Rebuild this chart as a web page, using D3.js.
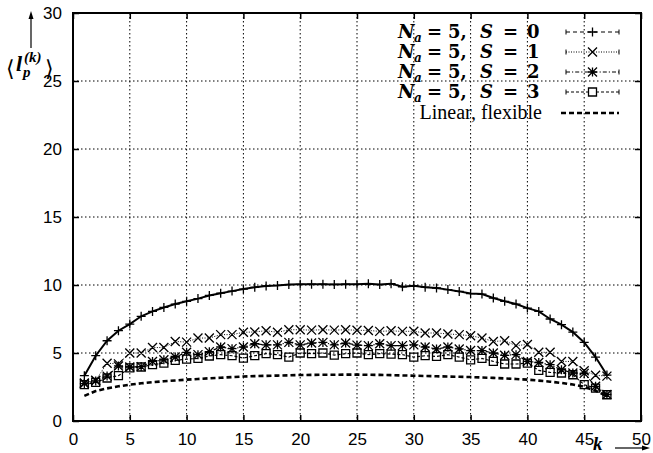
<!DOCTYPE html>
<html>
<head>
<meta charset="utf-8">
<script src="https://cdn.jsdelivr.net/npm/d3@7"></script>
<style>
  html, body { margin: 0; padding: 0; background: #fff; }
  svg { display: block; }
</style>
</head>
<body>
<svg id="chart" width="653" height="453"></svg>
<script>
// Mean loop lengths <l_p^(k)> against position k
const kValues = d3.range(1, 48);
const xTicks = [0, 5, 10, 15, 20, 25, 30, 35, 40, 45, 50];
const yTicks = [0, 5, 10, 15, 20, 25, 30];

const seriesS0 = [3.33, 4.8, 5.9, 6.64, 7.13, 7.7, 8.06, 8.35, 8.6, 8.8, 9.0, 9.23, 9.4, 9.55, 9.7, 9.83,
  9.93, 9.97, 10.03, 10.05, 10.06, 10.06, 10.04, 10.06, 10.05, 10.1, 10.03, 10.1, 9.87, 9.95, 9.84,
  9.78, 9.66, 9.53, 9.37, 9.33, 9.04, 8.8, 8.6, 8.3, 8.06, 7.5, 7.08, 6.54, 5.78, 4.7, 3.38];
const seriesS1 = [2.8, 3.0, 4.25, 4.2, 5.0, 5.0, 5.4, 5.4, 5.85, 5.8, 6.1, 6.1, 6.35, 6.35, 6.52, 6.55,
  6.64, 6.52, 6.71, 6.71, 6.68, 6.71, 6.68, 6.71, 6.67, 6.66, 6.59, 6.63, 6.59, 6.6, 6.47, 6.47,
  6.4, 6.35, 6.27, 6.1, 5.85, 5.9, 5.54, 5.63, 5.05, 5.05, 4.38, 4.38, 3.7, 3.36, 3.3];
const seriesS2 = [2.75, 2.95, 3.3, 4.05, 3.97, 4.0, 4.38, 4.5, 4.7, 5.05, 4.88, 5.1, 5.44, 5.32, 5.44,
  5.68, 5.6, 5.6, 5.78, 5.6, 5.73, 5.78, 5.6, 5.73, 5.58, 5.54, 5.68, 5.54, 5.54, 5.6, 5.44, 5.3,
  5.44, 5.3, 5.18, 5.18, 5.0, 4.83, 4.88, 4.38, 4.3, 4.14, 3.77, 3.53, 3.5, 2.55, 1.95];
const seriesS3 = [2.67, 2.84, 3.16, 3.33, 3.9, 3.97, 4.14, 4.26, 4.46, 4.55, 4.6, 4.78, 4.88, 4.8, 4.63,
  4.8, 4.95, 4.88, 4.7, 5.0, 4.95, 5.0, 4.85, 4.95, 5.0, 4.88, 4.95, 4.92, 4.88, 4.7, 4.8, 4.75,
  4.88, 4.7, 4.5, 4.6, 4.38, 4.19, 4.19, 4.26, 3.72, 3.57, 3.53, 3.4, 2.67, 2.42, 1.93];
const seriesLinear = [1.85, 2.2, 2.4, 2.55, 2.67, 2.77, 2.85, 2.92, 2.98, 3.04, 3.09, 3.14, 3.18, 3.23,
  3.27, 3.3, 3.32, 3.34, 3.36, 3.38, 3.39, 3.4, 3.4, 3.41, 3.41, 3.4, 3.39, 3.37, 3.35, 3.33, 3.31,
  3.29, 3.27, 3.25, 3.23, 3.2, 3.17, 3.13, 3.09, 3.04, 2.97, 2.89, 2.8, 2.68, 2.52, 2.23, 1.82];

const naValue = "5";
const spinValues = ["0", "1", "2", "3"];

const svg = d3.select("#chart");
const plotLeft = 73, plotRight = 641, plotTop = 13, plotBottom = 421;
const x = d3.scaleLinear().domain([0, 50]).range([plotLeft, plotRight]);
const y = d3.scaleLinear().domain([0, 30]).range([plotBottom, plotTop]);

const tickFont = "'Liberation Sans', Arial, sans-serif";
const serif = "'Liberation Serif', 'Times New Roman', serif";
const mathFont = "'DejaVu Serif', serif";

// grid
const grid = svg.append("g").attr("stroke", "#000").attr("stroke-width", 1)
  .attr("stroke-dasharray", "1.5,2.5");
grid.selectAll("line.gx").data(xTicks.filter(t => t > 0 && t < 50)).join("line").attr("class", "gx")
  .attr("x1", d => x(d)).attr("x2", d => x(d)).attr("y1", plotTop).attr("y2", plotBottom);
grid.selectAll("line.gy").data(yTicks.filter(t => t > 0 && t < 30)).join("line").attr("class", "gy")
  .attr("y1", d => y(d)).attr("y2", d => y(d)).attr("x1", plotLeft).attr("x2", plotRight);

// axes with inward ticks on all four sides
function styleAxis(g, showText) {
  g.select(".domain").remove();
  g.selectAll(".tick line").attr("stroke", "#000").attr("stroke-width", 1.5);
  g.selectAll(".tick text").attr("fill", "#000").style("font-family", tickFont).style("font-size", "17px");
  if (!showText) g.selectAll(".tick text").remove();
}
svg.append("g").attr("transform", `translate(0,${plotBottom})`)
  .call(d3.axisBottom(x).tickValues(xTicks).tickSize(-6).tickPadding(12).tickFormat(d3.format("d")))
  .call(g => styleAxis(g, true));
svg.append("g").attr("transform", `translate(0,${plotTop})`)
  .call(d3.axisTop(x).tickValues(xTicks).tickSize(-6)).call(g => styleAxis(g, false));
svg.append("g").attr("transform", `translate(${plotLeft},0)`)
  .call(d3.axisLeft(y).tickValues(yTicks).tickSize(-6).tickPadding(11).tickFormat(d3.format("d")))
  .call(g => styleAxis(g, true));
svg.append("g").attr("transform", `translate(${plotRight},0)`)
  .call(d3.axisRight(y).tickValues(yTicks).tickSize(-6)).call(g => styleAxis(g, false));

// marker shapes
const r = 4.5;
function plusPath(cx, cy) { return `M${cx - r},${cy}H${cx + r}M${cx},${cy - r}V${cy + r}`; }
function crossPath(cx, cy) { return `M${cx - r},${cy - r}L${cx + r},${cy + r}M${cx - r},${cy + r}L${cx + r},${cy - r}`; }
function starPath(cx, cy) { return plusPath(cx, cy) + crossPath(cx, cy); }
function boxPath(cx, cy) { const s = 4; return `M${cx - s},${cy - s}H${cx + s}V${cy + s}H${cx - s}Z`; }

const series = [
  { values: seriesS0, marker: plusPath, width: 2, dash: null, legendDash: "4,3" },
  { values: seriesS1, marker: crossPath, width: 1, dash: "1,1.5", legendDash: "1,1.5" },
  { values: seriesS2, marker: starPath, width: 1.2, dash: "4,2,1.2,2", legendDash: "4,2,1.2,2" },
  { values: seriesS3, marker: boxPath, width: 1.2, dash: "3,2", legendDash: "3,2" }
];

const line = d3.line().x((d, i) => x(kValues[i])).y(d => y(d));

// linear flexible reference curve
svg.append("path").datum(seriesLinear).attr("d", line)
  .attr("fill", "none").attr("stroke", "#000").attr("stroke-width", 2.6)
  .attr("stroke-dasharray", "5,3");

series.slice().reverse().forEach(s => {
  svg.append("path").datum(s.values).attr("d", line)
    .attr("fill", "none").attr("stroke", "#000").attr("stroke-width", s.width)
    .attr("stroke-dasharray", s.dash);
  svg.append("path")
    .attr("d", s.values.map((v, i) => s.marker(x(kValues[i]), y(v))).join(""))
    .attr("fill", "none").attr("stroke", "#000").attr("stroke-width", 1.3);
});

// frame
svg.append("rect").attr("x", plotLeft).attr("y", plotTop)
  .attr("width", plotRight - plotLeft).attr("height", plotBottom - plotTop)
  .attr("fill", "none").attr("stroke", "#000").attr("stroke-width", 2);

// legend: math-style entries laid out piece by piece
const legend = svg.append("g");
const sx1 = 566, sx2 = 619;
series.forEach((s, i) => {
  const cy = 32 + 20 * i;
  const base = cy + 6;
  const t = legend.append("text").attr("y", base)
    .style("font-family", mathFont).style("font-size", "18px")
    .style("font-weight", "bold").attr("fill", "#000");
  t.append("tspan").attr("x", 398).style("font-style", "italic").text("N");
  t.append("tspan").attr("x", 414).attr("y", base + 3.5).style("font-style", "italic")
    .style("font-size", "12px").text("a");
  t.append("tspan").attr("x", 427).attr("y", base).text("=");
  t.append("tspan").attr("x", 448).text(naValue + ",");
  t.append("tspan").attr("x", 480).style("font-style", "italic").text("S");
  t.append("tspan").attr("x", 503).text("=");
  t.append("tspan").attr("x", 527).text(spinValues[i]);

  legend.append("line").attr("x1", sx1).attr("x2", sx2).attr("y1", cy).attr("y2", cy)
    .attr("stroke", "#000").attr("stroke-width", 1).attr("stroke-dasharray", s.legendDash);
  legend.append("path").attr("d", `M${sx1},${cy - 2.5}V${cy + 2.5}M${sx2},${cy - 2.5}V${cy + 2.5}`)
    .attr("stroke", "#000").attr("stroke-width", 1);
  legend.append("path").attr("d", s.marker((sx1 + sx2) / 2, cy))
    .attr("fill", "#fff").attr("stroke", "#000").attr("stroke-width", 1.3);
});
legend.append("text").attr("x", 542).attr("y", 119).attr("text-anchor", "end")
  .style("font-family", serif).style("font-size", "20px").attr("fill", "#000")
  .text("Linear, flexible");
legend.append("line").attr("x1", 561).attr("x2", 619).attr("y1", 113).attr("y2", 113)
  .attr("stroke", "#000").attr("stroke-width", 2.6).attr("stroke-dasharray", "5,3");

// y label with arrow
svg.append("line").attr("x1", 31).attr("x2", 31).attr("y1", 48).attr("y2", 16)
  .attr("stroke", "#000").attr("stroke-width", 1.2);
svg.append("path").attr("d", "M31,11L28.5,19L33.5,19Z").attr("fill", "#000");
const ylab = svg.append("g").style("font-family", serif).attr("fill", "#000");
ylab.append("text").attr("x", 6).attr("y", 76).style("font-size", "22px").text("\u27E8");
ylab.append("text").attr("x", 16).attr("y", 71).style("font-size", "22px")
  .style("font-weight", "bold").style("font-style", "italic").text("l");
ylab.append("text").attr("x", 24).attr("y", 62).style("font-size", "15px")
  .style("font-weight", "bold").style("font-style", "italic").text("(k)");
ylab.append("text").attr("x", 23).attr("y", 77).style("font-size", "15px")
  .style("font-weight", "bold").style("font-style", "italic").text("p");
ylab.append("text").attr("x", 45).attr("y", 76).style("font-size", "22px").text("\u27E9");

// x label with arrow
svg.append("text").attr("x", 593).attr("y", 450).style("font-family", serif)
  .style("font-size", "19px").style("font-weight", "bold").style("font-style", "italic")
  .attr("fill", "#000").text("k");
svg.append("line").attr("x1", 615).attr("x2", 645).attr("y1", 448).attr("y2", 448)
  .attr("stroke", "#000").attr("stroke-width", 1.2);
svg.append("path").attr("d", "M650,448L642,445.5L642,450.5Z").attr("fill", "#000");
</script>
</body>
</html>
